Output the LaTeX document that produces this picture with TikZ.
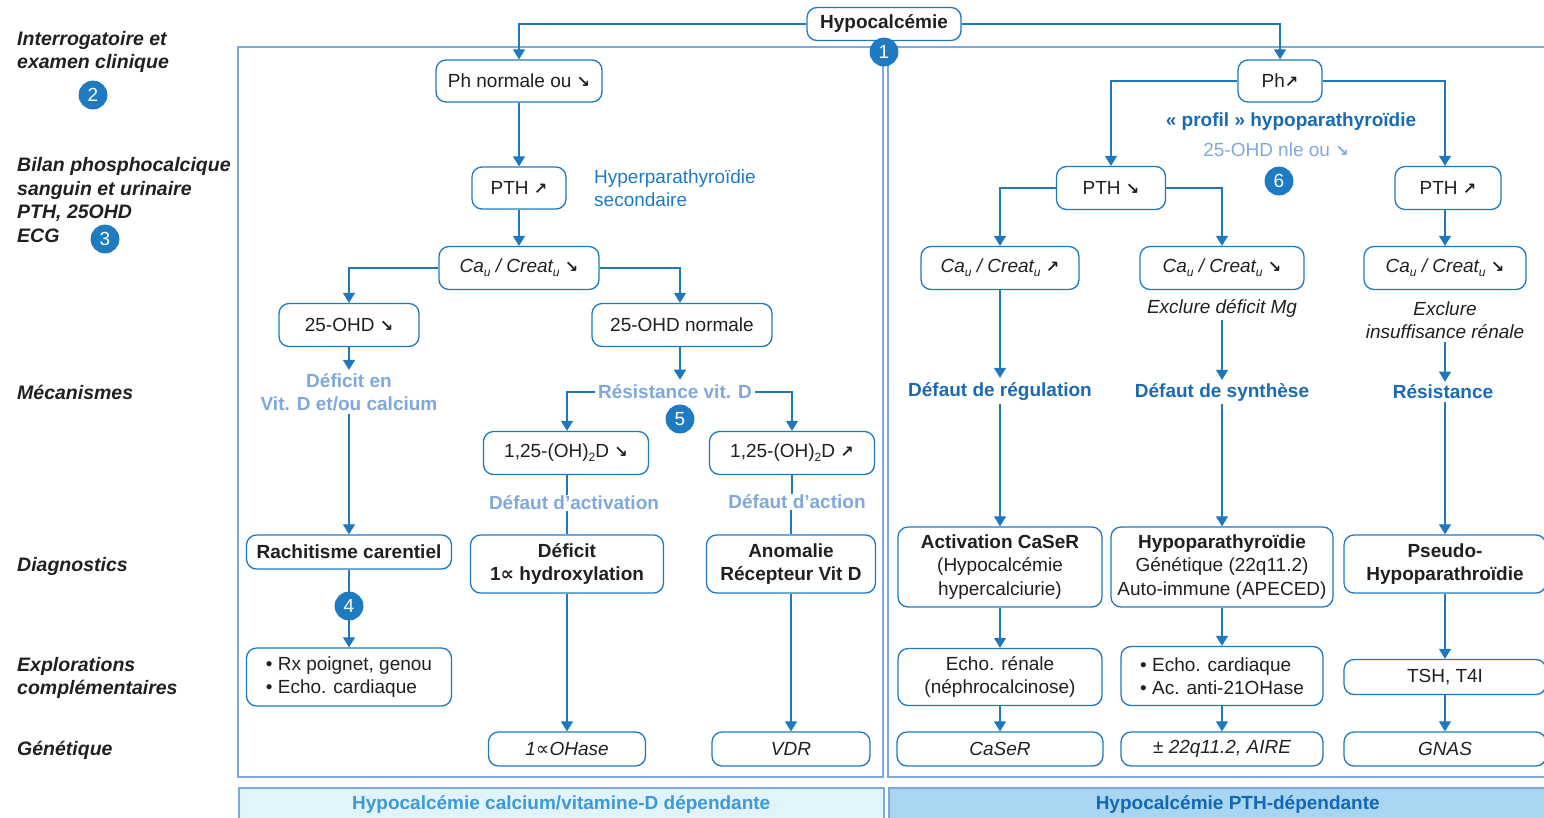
\documentclass[tikz,border=0pt]{standalone}
\usepackage{fontspec}
\setmainfont{Liberation Sans}
\newfontfamily\symfont{DejaVu Sans}
\usetikzlibrary{arrows.meta}
\definecolor{bblue}{HTML}{1F78BE}
\definecolor{frameblue}{HTML}{7DAAD8}
\definecolor{tblue}{HTML}{1A6BB3}
\definecolor{lblue}{HTML}{80A8DC}
\definecolor{hblue}{HTML}{1F7BC1}
\definecolor{darktext}{HTML}{231F20}
\definecolor{barAfill}{HTML}{E1F3FB}
\definecolor{barAtext}{HTML}{3D9AD6}
\definecolor{barBfill}{HTML}{A8D5F1}
\definecolor{barBtext}{HTML}{1468B0}
\definecolor{badgefill}{HTML}{1F7BC1}
\newcommand\fs{\fontsize{19}{23.5}\selectfont}
\newcommand\fsl{\fontsize{19.5}{23.5}\selectfont}
\newcommand\dnarr{{\symfont\bfseries\fontsize{16}{16}\selectfont ↘}}
\newcommand\uparr{{\symfont\bfseries\fontsize{16}{16}\selectfont ↗}}
\newcommand\alphsym{{\symfont ∝}}
\newcommand\sub[1]{\raisebox{-4pt}{\fontsize{12}{12}\selectfont #1}}
\begin{document}
\begin{tikzpicture}[x=1pt,y=-1pt,
  every node/.style={font=\fs, text=darktext},
  box/.style={draw=bblue, line width=1.3pt, rounded corners=10pt, fill=white, align=center, inner sep=2pt},
  bbox/.style={box, font=\fs\bfseries},
  ibox/.style={box, font=\fs\itshape},
  arr/.style={draw=bblue, line width=1.2pt, -{Triangle[width=12pt,length=10pt]}},
  conn/.style={draw=bblue, line width=1.2pt},
  frame/.style={draw=frameblue, line width=1.5pt},
  badge/.style={circle, fill=badgefill, draw=bblue, line width=0.8pt, text=white, minimum size=28pt, inner sep=0pt, font=\fs},
  lbl/.style={font=\fsl\bfseries\itshape, align=left, anchor=west, inner sep=0pt},
  ltext/.style={font=\fs\bfseries, text=lblue, align=center, fill=white, inner sep=3pt},
  btext/.style={font=\fs\bfseries, text=tblue, align=center, fill=white, inner sep=3pt},
  itext/.style={font=\fs\itshape, align=center, inner sep=3pt},
  bar/.style={anchor=north west, minimum height=33pt, inner sep=0pt, line width=1.5pt, font=\fs\bfseries}
]
\useasboundingbox (0,0) rectangle (1544,817);

% frames
\draw[frame] (238,47) rectangle (883,777);
\draw[frame] (888,47) rectangle (1560,777);

% bottom bars
\node[bar, draw=frameblue, fill=barAfill, text=barAtext, minimum width=645pt] (barA) at (238,787) {Hypocalcémie calcium/vitamine-D dépendante};
\node[bar, draw=frameblue, fill=barBfill, text=barBtext, minimum width=698pt] (barB) at (888,787) {Hypocalcémie PTH-dépendante};

% left labels
\node[lbl] (l1) at (17,52) {Interrogatoire et\\examen clinique};
\node[badge] (b2) at (93,95) {2};
\node[lbl] (l2) at (17,200) {Bilan phosphocalcique\\sanguin et urinaire\\PTH, 25OHD\\ECG};
\node[badge] (b3) at (105,239) {3};
\node[lbl] (l3) at (17,392) {Mécanismes};
\node[lbl] (l4) at (17,566) {Diagnostics};
\node[lbl] (l5) at (17,678) {Explorations\\complémentaires};
\node[lbl] (l6) at (17,750) {Génétique};

% top
\node[bbox, minimum width=154pt, minimum height=33pt] (hypo) at (884,24) {Hypocalcémie};

% left column
\node[box, minimum width=166pt, minimum height=42pt] (phn) at (519,81) {Ph normale ou \dnarr};
\node[box, minimum width=94pt, minimum height=42pt] (ptha) at (519,188) {PTH \uparr};
\node[font=\fs, text=hblue, align=left, anchor=west, inner sep=0pt] (hsec) at (594,188) {Hyperparathyroïdie\\secondaire};
\node[ibox, minimum width=160pt, minimum height=43pt] (caa) at (519,268) {Ca\sub{u} / Creat\sub{u} \dnarr};
\node[box, minimum width=140pt, minimum height=43pt] (ohda) at (349,325) {25-OHD \dnarr};
\node[box, minimum width=180pt, minimum height=43pt] (ohdb) at (682,325) {25-OHD normale};
\node[ltext] (defvit) at (349,392) {Déficit en\\Vit. D et/ou calcium};
\node[bbox, minimum width=205pt, minimum height=34pt] (rach) at (349,552) {Rachitisme carentiel};
\node[badge] (b4) at (349,606) {4};
\node[box, minimum width=205pt, minimum height=58pt, align=left] (expla) at (349,677) {• Rx poignet, genou\\• Echo. cardiaque};
\node[ltext] (resist) at (675,392) {Résistance vit. D};
\node[badge] (b5) at (680,419) {5};
\node[box, minimum width=165pt, minimum height=43pt] (da) at (566,453) {1,25-(OH)\sub{2}D \dnarr};
\node[box, minimum width=165pt, minimum height=43pt] (db) at (792,453) {1,25-(OH)\sub{2}D \uparr};
\node[ltext, inner sep=1pt] (defact) at (574,503) {Défaut d’activation};
\node[ltext, inner sep=1pt] (defaction) at (797,502) {Défaut d’action};
\node[bbox, minimum width=193pt, minimum height=58pt] (defic) at (567,564) {Déficit\\1\alphsym{} hydroxylation};
\node[bbox, minimum width=169pt, minimum height=58pt] (anom) at (791,564) {Anomalie\\Récepteur Vit D};
\node[ibox, minimum width=157pt, minimum height=34pt] (gena) at (567,749) {1\alphsym OHase};
\node[ibox, minimum width=158pt, minimum height=34pt] (genb) at (791,749) {VDR};

% right column
\node[box, minimum width=84pt, minimum height=42pt] (php) at (1280,81) {Ph\uparr};
\node[btext, inner sep=1pt] (profil) at (1291,122) {« profil » hypoparathyroïdie};
\node[font=\fs, text=lblue, inner sep=1pt] (nle) at (1276,150) {25-OHD nle ou \dnarr};
\node[badge] (b6) at (1279,181) {6};
\node[box, minimum width=109pt, minimum height=43pt] (pthb) at (1111,188) {PTH \dnarr};
\node[box, minimum width=106pt, minimum height=43pt] (pthc) at (1448,188) {PTH \uparr};
\node[ibox, minimum width=158pt, minimum height=43pt] (cab) at (1000,268) {Ca\sub{u} / Creat\sub{u} \uparr};
\node[ibox, minimum width=164pt, minimum height=43pt] (cac) at (1222,268) {Ca\sub{u} / Creat\sub{u} \dnarr};
\node[ibox, minimum width=162pt, minimum height=43pt] (cad) at (1445,268) {Ca\sub{u} / Creat\sub{u} \dnarr};
\node[itext] (exmg) at (1222,308) {Exclure déficit Mg};
\node[itext] (exir) at (1445,320) {Exclure\\insuffisance rénale};
\node[btext] (regul) at (1000,392) {Défaut de régulation};
\node[btext] (synth) at (1222,392) {Défaut de synthèse};
\node[btext] (resis) at (1443,392) {Résistance};
\node[box, minimum width=204pt, minimum height=80pt] (casr) at (1000,567) {\textbf{Activation CaSeR}\\(Hypocalcémie\\hypercalciurie)};
\node[box, minimum width=222pt, minimum height=80pt] (hypop) at (1222,567) {\textbf{Hypoparathyroïdie}\\Génétique (22q11.2)\\Auto-immune (APECED)};
\node[bbox, minimum width=202pt, minimum height=58pt] (pseudo) at (1445,564) {Pseudo-\\Hypoparathroïdie};
\node[box, minimum width=204pt, minimum height=57pt] (echor) at (1000,677) {Echo. rénale\\(néphrocalcinose)};
\node[box, minimum width=202pt, minimum height=59pt, align=left] (echoc) at (1222,676) {• Echo. cardiaque\\• Ac. anti-21OHase};
\node[box, minimum width=202pt, minimum height=35pt] (tsh) at (1445,677) {TSH, T4I};
\node[ibox, minimum width=206pt, minimum height=34pt] (genc) at (1000,749) {CaSeR};
\node[ibox, minimum width=202pt, minimum height=34pt] (gend) at (1222,749) {± 22q11.2, AIRE};
\node[ibox, minimum width=202pt, minimum height=34pt] (gene) at (1445,749) {GNAS};

% connectors top
\draw[arr] (hypo.west) -| (phn.north);
\draw[arr] (hypo.east) -| (php.north);
\node[badge] (b1) at (884,52) {1};

% connectors left
\draw[arr] (phn) -- (ptha);
\draw[arr] (ptha) -- (caa);
\draw[arr] (caa.west) -| (ohda.north);
\draw[arr] (caa.east) -| ([xshift=-2pt]ohdb.north);
\draw[arr] (ohda) -- (defvit);
\draw[arr] (defvit) -- (rach);
\draw[conn] (rach) -- (b4);
\draw[arr] (b4) -- (expla);
\draw[arr, shorten >=2pt] ([xshift=-2pt]ohdb.south) -- ([xshift=-2pt]ohdb.south |- resist.north);
\draw[arr] (resist.west) -| ([xshift=1pt]da.north);
\draw[arr] (resist.east) -| (db.north);
\draw[conn] ([xshift=1pt]da.south) -- ([xshift=1pt]da.south |- defact.north);
\draw[conn] (defact.south -| defic.north) -- (defic.north);
\draw[conn] (db.south) -- (db.south |- defaction.north);
\draw[conn] (defaction.south -| anom.north) -- (anom.north);
\draw[arr] (defic) -- (gena);
\draw[arr] (anom) -- (genb);

% connectors right
\draw[arr] (php.west) -| (pthb.north);
\draw[arr] (php.east) -| ([xshift=-3pt]pthc.north);
\draw[arr] (pthb.west) -| (cab.north);
\draw[arr] (pthb.east) -| (cac.north);
\draw[arr] ([xshift=-3pt]pthc.south) -- (cad.north);
\draw[arr, shorten >=2pt] (cab) -- (regul);
\draw[arr] (exmg) -- (synth);
\draw[arr] (exir.south) -- (exir.south |- resis.north);
\draw[arr] (regul) -- (casr);
\draw[arr] (synth) -- (hypop);
\draw[arr] (resis.south -| pseudo.north) -- (pseudo.north);
\draw[arr] (casr) -- (echor);
\draw[arr] (hypop) -- (echoc);
\draw[arr] (pseudo) -- (tsh);
\draw[arr] (echor) -- (genc);
\draw[arr] (echoc) -- (gend);
\draw[arr] (tsh) -- (gene);
\end{tikzpicture}
\end{document}
